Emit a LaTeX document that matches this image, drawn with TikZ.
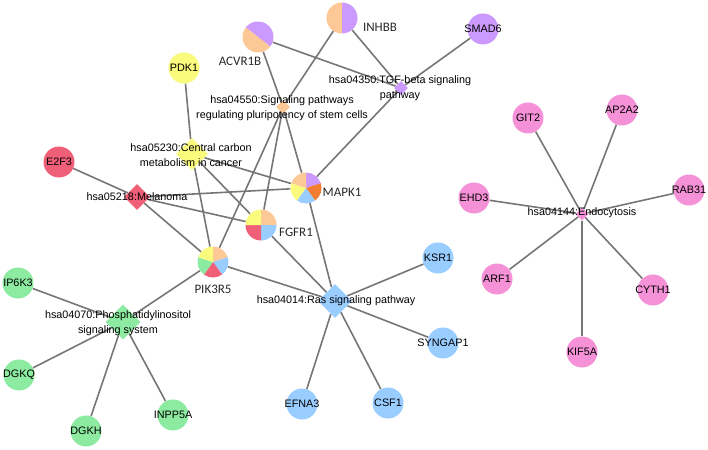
\documentclass[tikz,border=0pt]{standalone}
\usepackage{fontspec}
\setmainfont{Liberation Sans}
\newfontfamily\piefont{Carlito}
\usetikzlibrary{shapes.geometric,backgrounds}

\definecolor{cyel}{RGB}{250,250,125}
\definecolor{cpeach}{RGB}{252,200,150}
\definecolor{cpurp}{RGB}{204,153,255}
\definecolor{cred}{RGB}{240,95,120}
\definecolor{cblue}{RGB}{153,204,255}
\definecolor{cgreen}{RGB}{140,235,160}
\definecolor{cpink}{RGB}{245,145,215}
\definecolor{corange}{RGB}{240,125,50}
\definecolor{cedge}{RGB}{118,118,118}
\definecolor{pietext}{RGB}{40,40,40}

\newcommand\genefont{\fontsize{10.8}{13}\selectfont}
\newcommand\termfont{\fontsize{10.8}{15}\selectfont}
\newcommand\pielabfont{\piefont\fontsize{13}{15}\selectfont}

\begin{document}
\begin{tikzpicture}[x=1pt,y=-1pt,
    link/.style={draw=cedge,line width=1.6pt},
    gene/.style={circle,minimum size=31pt,inner sep=0pt,
        label={[font=\genefont,inner sep=0pt]center:#1}},
    pie/.style={circle,minimum size=31pt,inner sep=0pt},
    term/.style={diamond,minimum size=#1,inner sep=0pt},
    termtext/.style={align=center,font=\termfont,inner sep=0pt},
    pielabel/.style={font=\pielabfont,text=pietext,inner sep=0pt}]

\useasboundingbox (0,0) rectangle (708,449);

% genes
\node[gene=PDK1,fill=cyel] (pdk) at (184,68) {};
\node[gene=E2F3,fill=cred] (e2f) at (59,162) {};
\node[gene=SMAD6,fill=cpurp] (smad) at (483,29) {};

\node[gene=IP6K3,fill=cgreen] (ip6) at (18,283) {};
\node[gene=DGKQ,fill=cgreen] (dgkq) at (19,375) {};
\node[gene=DGKH,fill=cgreen] (dgkh) at (86,431) {};
\node[gene=INPP5A,fill=cgreen] (inpp) at (173,415) {};

\node[gene=KSR1,fill=cblue] (ksr) at (438,258) {};
\node[gene=SYNGAP1,fill=cblue] (syng) at (443,343) {};
\node[gene=EFNA3,fill=cblue] (efna) at (302,404) {};
\node[gene=CSF1,fill=cblue] (csf) at (388,403) {};

\node[gene=GIT2,fill=cpink] (git) at (528,118) {};
\node[gene=AP2A2,fill=cpink] (ap2) at (622,110) {};
\node[gene=RAB31,fill=cpink] (rab) at (689,190) {};
\node[gene=EHD3,fill=cpink] (ehd) at (474,198) {};
\node[gene=ARF1,fill=cpink] (arf) at (497,279) {};
\node[gene=CYTH1,fill=cpink] (cyth) at (653,290) {};
\node[gene=KIF5A,fill=cpink] (kif) at (582,352) {};

% shared genes (pie charts)
\node[pie] (inhbb) at (342,18) {};
\node[pie] (acvr) at (258,37) {};
\node[pie] (mapk) at (306,188) {};
\node[pie] (fgfr) at (261,225) {};
\node[pie] (pik) at (213,262) {};

\fill[cpeach] (inhbb.center) -- ++(90:15.5pt) arc[start angle=90,end angle=270,radius=15.5pt] -- cycle;
\fill[cpurp] (inhbb.center) -- ++(-90:15.5pt) arc[start angle=-90,end angle=90,radius=15.5pt] -- cycle;

\fill[cpurp] (acvr.center) -- ++(-38:15.5pt) arc[start angle=-38,end angle=142,radius=15.5pt] -- cycle;
\fill[cpeach] (acvr.center) -- ++(142:15.5pt) arc[start angle=142,end angle=322,radius=15.5pt] -- cycle;

\fill[cpurp] (mapk.center) -- ++(90:15.5pt) arc[start angle=90,end angle=18,radius=15.5pt] -- cycle;
\fill[corange] (mapk.center) -- ++(18:15.5pt) arc[start angle=18,end angle=-54,radius=15.5pt] -- cycle;
\fill[cblue] (mapk.center) -- ++(-54:15.5pt) arc[start angle=-54,end angle=-126,radius=15.5pt] -- cycle;
\fill[cyel] (mapk.center) -- ++(-126:15.5pt) arc[start angle=-126,end angle=-198,radius=15.5pt] -- cycle;
\fill[cpeach] (mapk.center) -- ++(-198:15.5pt) arc[start angle=-198,end angle=-270,radius=15.5pt] -- cycle;

\fill[cpeach] (fgfr.center) -- ++(90:15.5pt) arc[start angle=90,end angle=0,radius=15.5pt] -- cycle;
\fill[cblue] (fgfr.center) -- ++(0:15.5pt) arc[start angle=0,end angle=-90,radius=15.5pt] -- cycle;
\fill[cred] (fgfr.center) -- ++(-90:15.5pt) arc[start angle=-90,end angle=-180,radius=15.5pt] -- cycle;
\fill[cyel] (fgfr.center) -- ++(-180:15.5pt) arc[start angle=-180,end angle=-270,radius=15.5pt] -- cycle;

\fill[cpeach] (pik.center) -- ++(90:15.5pt) arc[start angle=90,end angle=18,radius=15.5pt] -- cycle;
\fill[cblue] (pik.center) -- ++(18:15.5pt) arc[start angle=18,end angle=-54,radius=15.5pt] -- cycle;
\fill[cred] (pik.center) -- ++(-54:15.5pt) arc[start angle=-54,end angle=-126,radius=15.5pt] -- cycle;
\fill[cgreen] (pik.center) -- ++(-126:15.5pt) arc[start angle=-126,end angle=-198,radius=15.5pt] -- cycle;
\fill[cyel] (pik.center) -- ++(-198:15.5pt) arc[start angle=-198,end angle=-270,radius=15.5pt] -- cycle;

\node[pielabel] (inhbb-l) at (380,27) {INHBB};
\node[pielabel] (acvr-l) at (240,61) {ACVR1B};
\node[pielabel] (mapk-l) at (342,192) {MAPK1};
\node[pielabel] (fgfr-l) at (296,232) {FGFR1};
\node[pielabel] (pik-l) at (213,289) {PIK3R5};

% pathways
\node[term=14pt,fill=cpeach] (plur) at (283,107) {};
\node[term=14pt,fill=cpurp] (tgf) at (401,88) {};
\node[term=32pt,fill=cyel] (cc) at (192,154) {};
\node[term=26pt,fill=cred] (mel) at (137,197) {};
\node[term=34pt,fill=cblue] (ras) at (335,301) {};
\node[term=35pt,fill=cgreen] (pi) at (123,322) {};
\node[term=13pt,fill=cpink] (endo) at (582,214) {};

\node[termtext] (tgf-l) at (400,88.5) {hsa04350:TGF-beta signaling\\pathway};
\node[termtext] (plur-l) at (282,108) {hsa04550:Signaling pathways\\regulating pluripotency of stem cells};
\node[termtext] (cc-l) at (191,155.5) {hsa05230:Central carbon\\metabolism in cancer};
\node[termtext] (mel-l) at (137,197) {hsa05218:Melanoma};
\node[termtext] (ras-l) at (336,301) {hsa04014:Ras signaling pathway};
\node[termtext] (pi-l) at (118,323.5) {hsa04070:Phosphatidylinositol\\signaling system};
\node[termtext] (endo-l) at (582,213) {hsa04144:Endocytosis};

% links
\begin{scope}[on background layer]
\draw[link] (pdk) -- (cc);
\draw[link] (acvr) -- (tgf);
\draw[link] (acvr) -- (plur);
\draw[link] (inhbb) -- (tgf);
\draw[link] (inhbb) -- (plur);
\draw[link] (smad) -- (tgf);
\draw[link] (tgf) -- (mapk);

\draw[link] (plur) -- (mapk);
\draw[link] (plur) -- (fgfr);
\draw[link] (plur) -- (pik);

\draw[link] (cc) -- (mapk);
\draw[link] (cc) -- (fgfr);
\draw[link] (cc) -- (pik);

\draw[link] (mel) -- (e2f);
\draw[link] (mel) -- (mapk);
\draw[link] (mel) -- (fgfr);
\draw[link] (mel) -- (pik);

\draw[link] (ras) -- (pik);
\draw[link] (ras) -- (fgfr);
\draw[link] (ras) -- (mapk);
\draw[link] (ras) -- (ksr);
\draw[link] (ras) -- (syng);
\draw[link] (ras) -- (efna);
\draw[link] (ras) -- (csf);

\draw[link] (pi) -- (pik);
\draw[link] (pi) -- (ip6);
\draw[link] (pi) -- (dgkq);
\draw[link] (pi) -- (dgkh);
\draw[link] (pi) -- (inpp);

\draw[link] (endo) -- (git);
\draw[link] (endo) -- (ap2);
\draw[link] (endo) -- (rab);
\draw[link] (endo) -- (ehd);
\draw[link] (endo) -- (arf);
\draw[link] (endo) -- (cyth);
\draw[link] (endo) -- (kif);
\end{scope}

\end{tikzpicture}
\end{document}
